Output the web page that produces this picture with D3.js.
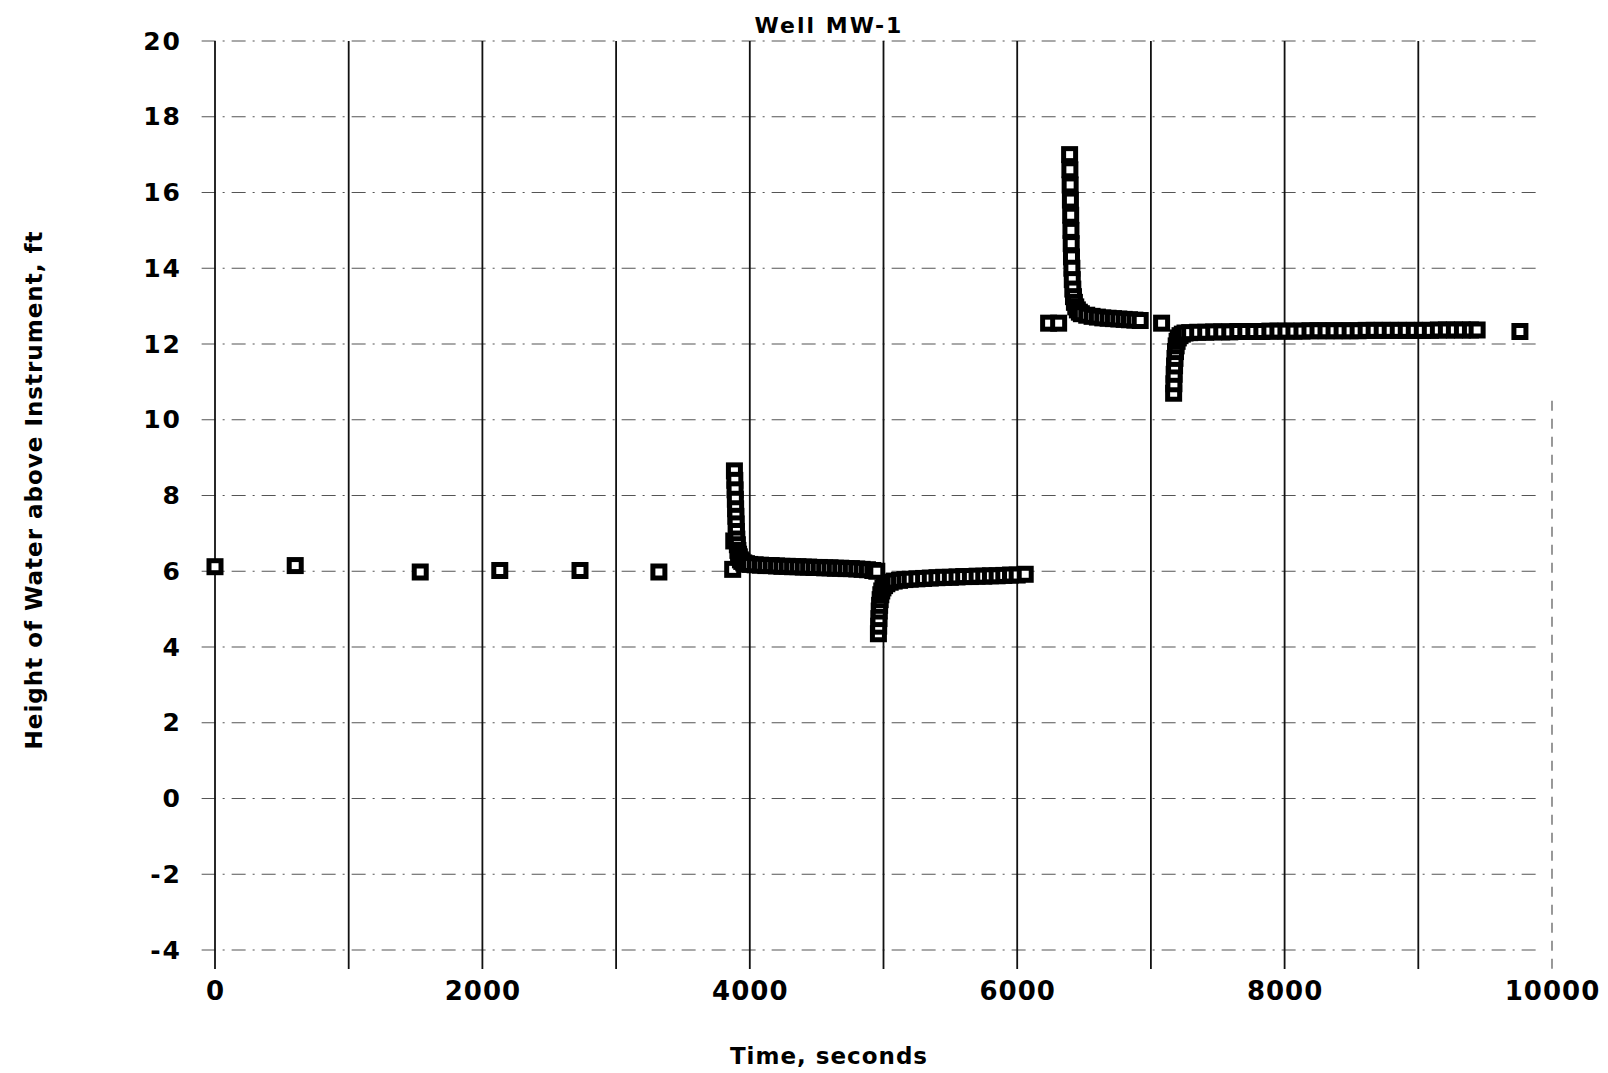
<!DOCTYPE html>
<html>
<head>
<meta charset="utf-8">
<script src="https://cdn.jsdelivr.net/npm/d3@7/dist/d3.min.js"></script>
<style>
body { margin: 0; background: #fff; }
svg { display: block; background: #fff; }
</style>
</head>
<body>
<svg width="1608" height="1073"></svg>
<script>
var xTicks = [0, 2000, 4000, 6000, 8000, 10000];
var xGrid = [0, 1000, 2000, 3000, 4000, 5000, 6000, 7000, 8000, 9000, 10000];
var yTicks = [-4, -2, 0, 2, 4, 6, 8, 10, 12, 14, 16, 18, 20];

// [time (s), height (ft)]
var staticReadings = [[0, 6.12], [600, 6.15], [1535, 5.98], [2130, 6.02], [2730, 6.02], [3320, 5.98], [3872, 6.05]];

var test1 = [
    [3880, 6.8], [3885, 8.65], [3888, 8.4], [3890, 8.15], [3892, 7.9], [3894, 7.65], [3896, 7.45],
    [3898, 7.25], [3900, 7.05], [3903, 6.85], [3907, 6.7], [3911, 6.55], [3916, 6.45], [3922, 6.38],
    [3930, 6.3], [3940, 6.26], [3955, 6.22], [3975, 6.2], [4000, 6.18], [4040, 6.17], [4080, 6.16],
    [4120, 6.15], [4160, 6.15], [4200, 6.14], [4240, 6.13], [4280, 6.13], [4320, 6.12], [4360, 6.12],
    [4400, 6.11], [4440, 6.11], [4480, 6.1], [4520, 6.1], [4560, 6.09], [4600, 6.09], [4640, 6.08],
    [4680, 6.08], [4720, 6.07], [4760, 6.07], [4800, 6.06], [4840, 6.05], [4880, 6.04], [4920, 6.02],
    [4950, 6.0]
];

var test2 = [
    [4962, 4.35], [4964, 4.55], [4966, 4.75], [4968, 4.95], [4971, 5.1], [4975, 5.25], [4980, 5.38],
    [4987, 5.48], [4996, 5.56], [5008, 5.62], [5025, 5.67], [5050, 5.71], [5080, 5.74], [5120, 5.76],
    [5160, 5.78], [5200, 5.79], [5250, 5.8], [5300, 5.81], [5350, 5.82], [5400, 5.83], [5450, 5.84],
    [5500, 5.84], [5550, 5.85], [5600, 5.86], [5650, 5.86], [5700, 5.87], [5750, 5.87], [5800, 5.88],
    [5850, 5.88], [5900, 5.89], [5950, 5.9], [6000, 5.9], [6060, 5.92]
];

var test3 = [
    [6235, 12.55], [6310, 12.55], [6392, 17.0], [6394, 16.6], [6396, 16.2], [6398, 15.8], [6400, 15.4],
    [6402, 15.0], [6404, 14.65], [6406, 14.3], [6409, 14.0], [6412, 13.7], [6416, 13.45], [6421, 13.25],
    [6428, 13.1], [6438, 12.98], [6450, 12.9], [6465, 12.84], [6480, 12.8], [6520, 12.76], [6560, 12.73],
    [6600, 12.71], [6640, 12.69], [6680, 12.68], [6720, 12.67], [6760, 12.66], [6800, 12.65],
    [6840, 12.64], [6880, 12.63], [6920, 12.62], [7080, 12.55]
];

var test4 = [
    [7170, 10.7], [7172, 10.95], [7174, 11.2], [7177, 11.42], [7180, 11.62], [7184, 11.8], [7189, 11.95],
    [7196, 12.07], [7205, 12.16], [7218, 12.22], [7235, 12.26], [7255, 12.29], [7290, 12.3], [7350, 12.31],
    [7410, 12.31], [7470, 12.32], [7530, 12.32], [7590, 12.32], [7650, 12.33], [7710, 12.33], [7770, 12.33],
    [7830, 12.33], [7890, 12.34], [7950, 12.34], [8010, 12.34], [8070, 12.34], [8130, 12.34], [8190, 12.35],
    [8250, 12.35], [8310, 12.35], [8370, 12.35], [8430, 12.35], [8490, 12.35], [8550, 12.35], [8610, 12.36],
    [8670, 12.36], [8730, 12.36], [8790, 12.36], [8850, 12.36], [8910, 12.36], [8970, 12.36], [9030, 12.36],
    [9090, 12.36], [9150, 12.37], [9210, 12.37], [9270, 12.37], [9330, 12.37], [9390, 12.37], [9440, 12.37],
    [9760, 12.33]
];

var svg = d3.select('svg');

var x = d3.scaleLinear().domain([0, 10000]).range([215, 1552]);
var y = d3.scaleLinear().domain([-4, 20]).range([950, 41]);

// horizontal grid (broken, scanned look)
svg.append('g')
    .selectAll('line')
    .data(yTicks)
    .join('line')
    .attr('x1', x(-100))
    .attr('x2', x(9900))
    .attr('y1', d => y(d))
    .attr('y2', d => y(d))
    .attr('stroke', '#555')
    .attr('stroke-width', 1.1)
    .attr('stroke-dasharray', '14,7,2,7');

// vertical grid
svg.append('g')
    .selectAll('line')
    .data(xGrid)
    .join('line')
    .attr('x1', d => x(d))
    .attr('x2', d => x(d))
    .attr('y1', d => d === 10000 ? y(10.5) : y(20))
    .attr('y2', y(-4.5))
    .attr('stroke', d => d === 10000 ? '#555' : '#111')
    .attr('stroke-width', d => d === 10000 ? 1.2 : 1.8)
    .attr('stroke-dasharray', d => d === 10000 ? '10,8' : null);

var yAxis = svg.append('g')
    .attr('transform', 'translate(' + x(0) + ',0)')
    .call(d3.axisLeft(y).tickValues(yTicks).tickSize(0).tickPadding(33).tickFormat(d => String(d)));
yAxis.select('.domain').remove();
yAxis.selectAll('text')
    .style('font-family', '"DejaVu Sans", sans-serif')
    .style('font-weight', 'bold')
    .style('font-size', '25px')
    .style('letter-spacing', '2px')
    .attr('fill', '#000');

var xAxis = svg.append('g')
    .attr('transform', 'translate(0,' + y(-4) + ')')
    .call(d3.axisBottom(x).tickValues(xTicks).tickSize(0).tickPadding(32).tickFormat(d => String(d)));
xAxis.select('.domain').remove();
xAxis.selectAll('text')
    .style('font-family', '"DejaVu Sans", sans-serif')
    .style('font-weight', 'bold')
    .style('font-size', '26px')
    .style('letter-spacing', '1px')
    .attr('fill', '#000');

var allPoints = staticReadings.concat(test1, test2, test3, test4);
var size = 12;

svg.append('g')
    .selectAll('rect')
    .data(allPoints)
    .join('rect')
    .attr('x', d => x(d[0]) - size / 2)
    .attr('y', d => y(d[1]) - size / 2)
    .attr('width', size)
    .attr('height', size)
    .attr('fill', '#fff')
    .attr('stroke', '#000')
    .attr('stroke-width', 5);

svg.append('text')
    .attr('x', 829)
    .attr('y', 33)
    .attr('text-anchor', 'middle')
    .style('font-family', '"DejaVu Sans", sans-serif')
    .style('font-weight', 'bold')
    .style('font-size', '22px')
    .style('letter-spacing', '2px')
    .text('Well MW-1');

svg.append('text')
    .attr('x', 829)
    .attr('y', 1064)
    .attr('text-anchor', 'middle')
    .style('font-family', '"DejaVu Sans", sans-serif')
    .style('font-weight', 'bold')
    .style('font-size', '23px')
    .style('letter-spacing', '1px')
    .text('Time, seconds');

svg.append('text')
    .attr('transform', 'translate(42,490) rotate(-90)')
    .attr('text-anchor', 'middle')
    .style('font-family', '"DejaVu Sans", sans-serif')
    .style('font-weight', 'bold')
    .style('font-size', '23px')
    .style('letter-spacing', '1px')
    .text('Height of Water above Instrument, ft');
</script>
</body>
</html>
